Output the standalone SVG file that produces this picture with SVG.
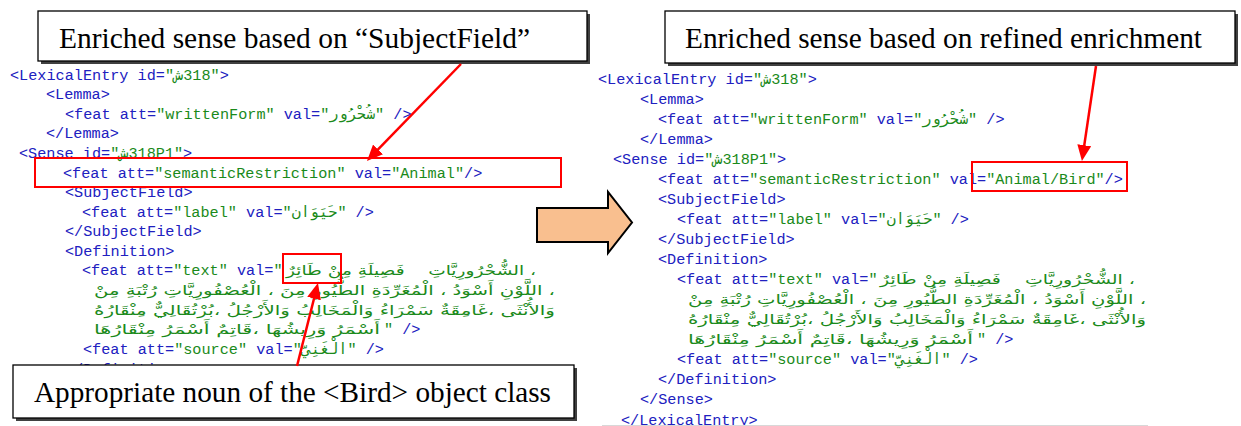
<svg xmlns="http://www.w3.org/2000/svg" width="1241" height="426" viewBox="0 0 1241 426">
<style>
.c{font-family:"Liberation Mono","DejaVu Sans Mono",monospace;font-size:15.2px;fill:#2020c0}
.v{fill:#1a8a1a;font-family:"Liberation Mono","DejaVu Sans Mono","DejaVu Sans",monospace}
.ar{font-family:"DejaVu Sans",sans-serif;font-size:13px;fill:#1a8a1a}
.cap{font-family:"Liberation Serif","Times New Roman",serif;font-size:29px;fill:#000}
.box{fill:#fff;stroke:#000;stroke-width:1.3}
.shadow{fill:#404040}
.hl{fill:none;stroke:#ff0000;stroke-width:2}
.arrow{fill:none;stroke:#ff0000;stroke-width:2.5;marker-end:url(#ah)}
</style>
<defs>
<marker id="ah" markerWidth="16" markerHeight="14" refX="8" refY="7" orient="auto" markerUnits="userSpaceOnUse">
<path d="M0,0 L16,7 L0,14 z" fill="#ff0000"/>
</marker>
</defs>

<g id="left-xml">
<text class="c" x="10" y="79.5">&lt;LexicalEntry id=<tspan class="v">"ش&#x200E;318"</tspan>&gt;</text>
<text class="c" x="46" y="99">&lt;Lemma&gt;</text>
<text class="c" x="65" y="118.5">&lt;feat att=<tspan class="v">"writtenForm"</tspan> val=<tspan class="v">"شُحْرُور"</tspan> /&gt;</text>
<text class="c" x="46" y="138">&lt;/Lemma&gt;</text>
<text class="c" x="19" y="158">&lt;Sense id=<tspan class="v">"ش&#x200E;318P1"</tspan>&gt;</text>
<text class="c" x="63" y="177.5">&lt;feat att=<tspan class="v">"semanticRestriction"</tspan> val=<tspan class="v">"Animal"</tspan>/&gt;</text>
<text class="c" x="65" y="197">&lt;SubjectField&gt;</text>
<text class="c" x="82" y="216.5">&lt;feat att=<tspan class="v">"label"</tspan> val=<tspan class="v">"حَيَوَان"</tspan> /&gt;</text>
<text class="c" x="65" y="236">&lt;/SubjectField&gt;</text>
<text class="c" x="65" y="255.5">&lt;Definition&gt;</text>
<text class="c" x="82" y="275">&lt;feat att=<tspan class="v">"text"</tspan> val=<tspan class="v">"</tspan></text>
<text class="ar" x="286" y="275" textLength="250" lengthAdjust="spacingAndGlyphs">طَائِرٌ&#x200E; مِنْ&#x200E; فَصِيلَةِ&#x200E;&#160;&#160;&#160; الشُّحْرُورِيَّاتِ&#x200E; ،</text>
<text class="ar" x="94" y="295" textLength="461" lengthAdjust="spacingAndGlyphs">مِنْ&#x200E; رُتْبَةِ&#x200E; الْعُصْفُورِيَّاتِ&#x200E; ،&#x200E; مِنَ&#x200E; الطُّيُورِ&#x200E; الْمُغَرِّدَةِ&#x200E; ،&#x200E; أَسْوَدُ&#x200E; اللَّوْنِ&#x200E; ،</text>
<text class="ar" x="94" y="314.5" textLength="461" lengthAdjust="spacingAndGlyphs">مِنْقَارُهُ&#x200E; بُرْتُقَالِيٌّ،&#x200E; وَالأَرْجُلُ&#x200E; وَالْمَخَالِبُ&#x200E; سَمْرَاءُ&#x200E; غَامِقَةٌ،&#x200E; وَالأُنْثَى</text>
<text class="ar" x="94" y="334" textLength="286" lengthAdjust="spacingAndGlyphs">مِنْقَارُهَا&#x200E; أَسْمَرُ&#x200E; قَاتِمٌ،&#x200E; وَرِيشُهَا&#x200E; أَسْمَرُ</text>
<text class="c" x="384" y="334"><tspan class="v">"</tspan> /&gt;</text>
<text class="c" x="83" y="354">&lt;feat att=<tspan class="v">"source"</tspan> val=<tspan class="v">"الْغَنِيّ"</tspan> /&gt;</text>
<text class="c" x="65" y="373.5">&lt;/Definition&gt;</text>
</g>

<g id="right-xml">
<text class="c" x="598" y="84">&lt;LexicalEntry id=<tspan class="v">"ش&#x200E;318"</tspan>&gt;</text>
<text class="c" x="640" y="104">&lt;Lemma&gt;</text>
<text class="c" x="658" y="124">&lt;feat att=<tspan class="v">"writtenForm"</tspan> val=<tspan class="v">"شُحْرُور"</tspan> /&gt;</text>
<text class="c" x="640" y="144">&lt;/Lemma&gt;</text>
<text class="c" x="613" y="164">&lt;Sense id=<tspan class="v">"ش&#x200E;318P1"</tspan>&gt;</text>
<text class="c" x="658" y="184">&lt;feat att=<tspan class="v">"semanticRestriction"</tspan> val=<tspan class="v">"Animal/Bird"</tspan>/&gt;</text>
<text class="c" x="658" y="204">&lt;SubjectField&gt;</text>
<text class="c" x="677" y="224">&lt;feat att=<tspan class="v">"label"</tspan> val=<tspan class="v">"حَيَوَان"</tspan> /&gt;</text>
<text class="c" x="658" y="244">&lt;/SubjectField&gt;</text>
<text class="c" x="658" y="264">&lt;Definition&gt;</text>
<text class="c" x="677" y="284">&lt;feat att=<tspan class="v">"text"</tspan> val=<tspan class="v">"</tspan></text>
<text class="ar" x="880" y="284" textLength="255" lengthAdjust="spacingAndGlyphs">طَائِرٌ&#x200E; مِنْ&#x200E; فَصِيلَةِ&#x200E;&#160;&#160;&#160; الشُّحْرُورِيَّاتِ&#x200E; ،</text>
<text class="ar" x="688" y="304" textLength="458" lengthAdjust="spacingAndGlyphs">مِنْ&#x200E; رُتْبَةِ&#x200E; الْعُصْفُورِيَّاتِ&#x200E; ،&#x200E; مِنَ&#x200E; الطُّيُورِ&#x200E; الْمُغَرِّدَةِ&#x200E; ،&#x200E; أَسْوَدُ&#x200E; اللَّوْنِ&#x200E; ،</text>
<text class="ar" x="688" y="324" textLength="458" lengthAdjust="spacingAndGlyphs">مِنْقَارُهُ&#x200E; بُرْتُقَالِيٌّ،&#x200E; وَالأَرْجُلُ&#x200E; وَالْمَخَالِبُ&#x200E; سَمْرَاءُ&#x200E; غَامِقَةٌ،&#x200E; وَالأُنْثَى</text>
<text class="ar" x="688" y="344" textLength="285" lengthAdjust="spacingAndGlyphs">مِنْقَارُهَا&#x200E; أَسْمَرُ&#x200E; قَاتِمٌ،&#x200E; وَرِيشُهَا&#x200E; أَسْمَرُ</text>
<text class="c" x="977" y="344"><tspan class="v">"</tspan> /&gt;</text>
<text class="c" x="677" y="364">&lt;feat att=<tspan class="v">"source"</tspan> val=<tspan class="v">"الْغَنِيّ"</tspan> /&gt;</text>
<text class="c" x="658" y="384">&lt;/Definition&gt;</text>
<text class="c" x="640" y="404">&lt;/Sense&gt;</text>
<text class="c" x="621" y="424.5">&lt;/LexicalEntry&gt;</text>
<line x1="602" y1="425.5" x2="1148" y2="425.5" stroke="#d8d8d8" stroke-width="1"/>
</g>

<g id="highlights">
<rect class="hl" x="35" y="158" width="526" height="29"/>
<rect class="hl" x="283" y="254" width="58" height="29"/>
<rect class="hl" x="972" y="162" width="155" height="29"/>
</g>

<g id="callout-subjectfield">
<rect class="shadow" x="41" y="14" width="549" height="50"/>
<rect class="box" x="38" y="11" width="549" height="50"/>
<text class="cap" x="59" y="48" textLength="471" lengthAdjust="spacingAndGlyphs">Enriched sense based on “SubjectField”</text>
</g>

<g id="callout-bird-noun">
<rect class="shadow" x="16" y="368" width="561" height="53"/>
<rect class="box" x="13" y="365" width="561" height="53"/>
<text class="cap" x="34" y="402" textLength="517" lengthAdjust="spacingAndGlyphs">Appropriate noun of the &lt;Bird&gt; object class</text>
</g>

<g id="callout-refined">
<rect class="shadow" x="668" y="14" width="570" height="52"/>
<rect class="box" x="665" y="11" width="570" height="52"/>
<text class="cap" x="685" y="48" textLength="517" lengthAdjust="spacingAndGlyphs">Enriched sense based on refined enrichment</text>
</g>

<g id="transform-arrow">
<path d="M537,208 L608,208 L608,192 L632,222.5 L608,253 L608,242 L537,242 Z" fill="#f9bf8f" stroke="#000" stroke-width="2" stroke-linejoin="miter"/>
</g>

<g id="connectors">
<path class="arrow" d="M461,64 L372.5,155.2"/>
<path class="arrow" d="M297,366 L316,290.8"/>
<path class="arrow" d="M1096,66 L1083.1,153.1"/>
</g>
</svg>
